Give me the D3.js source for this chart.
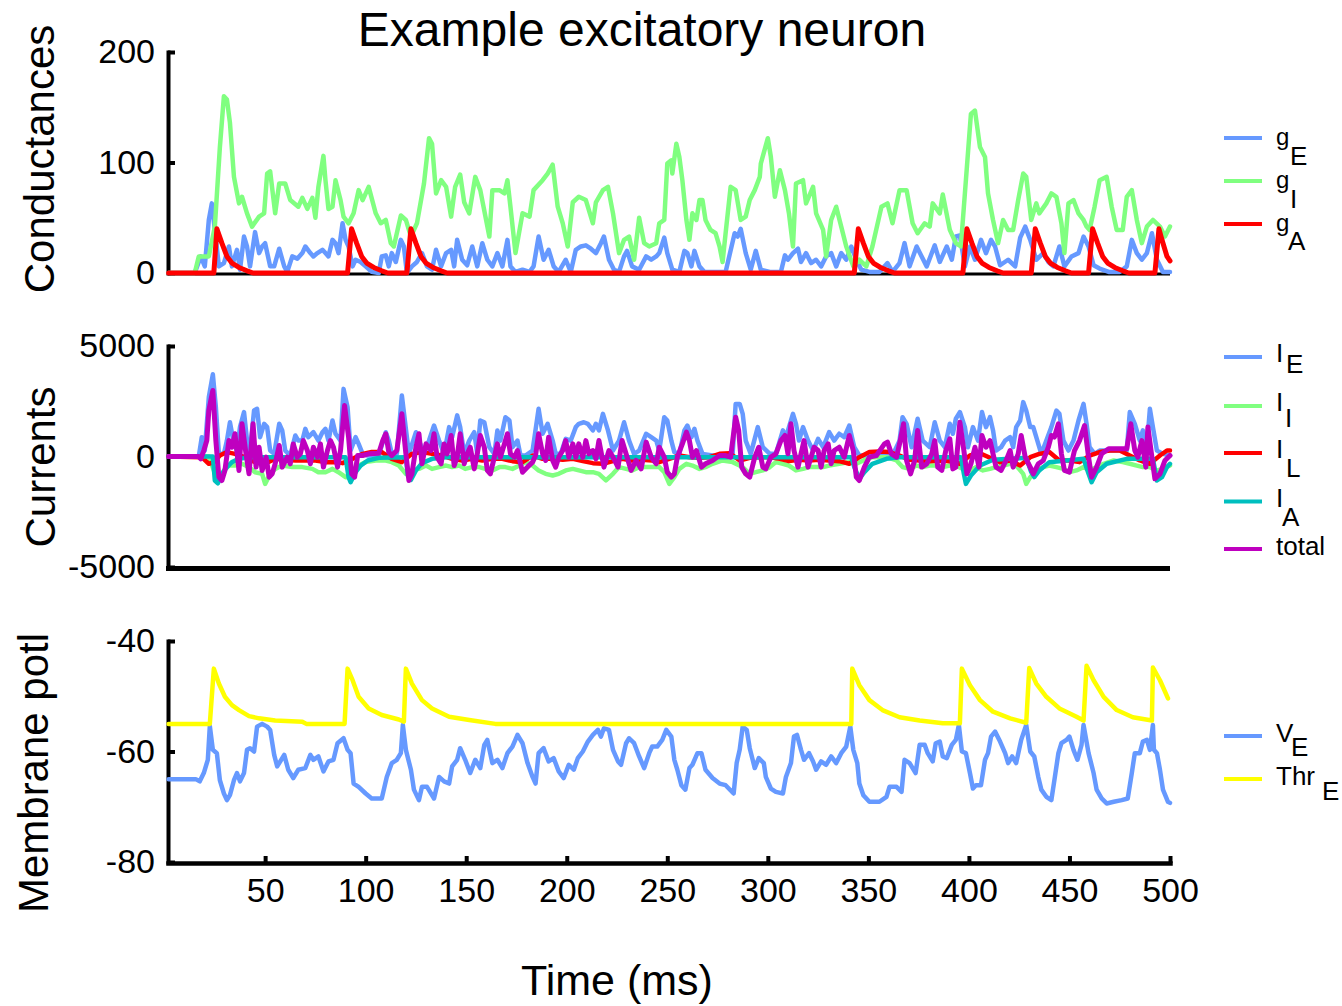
<!DOCTYPE html>
<html><head><meta charset="utf-8">
<script src="https://cdn.jsdelivr.net/npm/d3@7"></script>
<style>
body{margin:0;background:#fff}
svg{display:block}
text{font-family:"Liberation Sans",Arial,sans-serif;fill:#000}
</style>
</head><body>
<svg id="c" width="1342" height="1006"></svg>
<script>
// ---------------- DATA (time in ms, value) ----------------
const xTicks = [50,100,150,200,250,300,350,400,450,500];
const gTicks = [0,100,200];
const iTicks = [-5000,0,5000];
const vTicks = [-80,-60,-40];

const gE = [[2,0],[15,0],[18,15],[20,6],[22,48],[23.5,63],[25,39],[27,6],[29.5,9],[32,24],[33.5,6],[36,21],[37.5,3],[39.5,33],[41,24],[42.5,6],[45,37],[47,18],[48.5,24],[50,27],[52.5,6],[54.5,6],[57,22],[59.5,6],[61,1],[63.5,15],[66,13],[68.5,18],[70,24],[72.5,18],[74,15],[76,18],[78.5,21],[80,18],[81.5,15],[83.5,30],[85,27],[86.5,18],[88.5,45],[90,30],[91.5,24],[93.5,6],[95,12],[97.5,10],[100,6],[103,1],[106.5,0],[108,15],[110,16],[111.5,6],[113,18],[115,10],[117.5,30],[119,24],[120.5,0],[123,6],[125.5,10],[128,18],[130.5,6],[133,3],[135,21],[137.5,6],[140,18],[142.5,21],[144,6],[145.5,30],[148,12],[150.5,7],[153,24],[155.5,6],[158,27],[160.5,12],[163,6],[165.5,18],[168,6],[170.5,30],[172,6],[174.5,1],[178,3],[181.5,1],[183.5,6],[186,33],[188.5,12],[191,21],[193.5,6],[196,1],[199.5,12],[202,1],[204.5,21],[207,24],[209.5,25],[212,22],[214.5,18],[217,27],[218.5,33],[221,12],[223.5,3],[226,1],[228.5,15],[230,20],[232.5,6],[236,3],[239.5,15],[242,12],[244.5,15],[246,18],[248.5,32],[250,18],[252.5,3],[256,1],[258.5,20],[260,18],[262,6],[263.5,20],[266,6],[268.5,1],[272.5,1],[279,1],[283.5,36],[285,33],[286.5,40],[289,18],[291.5,3],[294,20],[296.5,3],[301,1],[306.5,1],[308.5,16],[310,12],[312.5,18],[315,22],[316.5,10],[319,18],[321.5,9],[324,12],[326.5,6],[329,15],[331.5,18],[334,6],[336.5,18],[339,12],[341.5,24],[344,12],[346.5,3],[350.5,1],[355.5,1],[359.5,9],[362,1],[365.5,9],[368,27],[370.5,6],[374,24],[376.5,15],[379,6],[383,25],[385.5,10],[389,24],[391.5,12],[393.5,33],[395.5,34],[398,6],[400.5,24],[403,12],[406,30],[408.5,18],[411,30],[413,24],[415.5,7],[419.5,12],[423,6],[425.5,32],[428,42],[430.5,30],[433.5,12],[437,18],[439.5,10],[442,6],[445,24],[447.5,6],[451,15],[454.5,18],[457,33],[459.5,24],[462,7],[465,4],[469.5,1],[475,1],[478.5,6],[481,30],[483.5,18],[486,12],[488.5,18],[491,36],[493.5,12],[496.5,1],[500,1]];

const gI = [[2,0],[15,0],[17,15],[22,15],[25,42],[27.5,114],[29.5,160],[31,157],[32.5,136],[34.5,87],[37,63],[38.5,69],[41,54],[43.5,42],[47,51],[49.5,54],[51,90],[52.5,92],[55,54],[57,81],[60,81],[62.5,66],[66.5,60],[68.5,68],[71,58],[73.5,68],[75,50],[76.5,78],[79,106],[80,84],[81.5,58],[83.5,60],[85,84],[87.5,66],[89,51],[91.5,45],[94,54],[96.5,75],[98.5,66],[101.5,78],[105,54],[107.5,45],[110,48],[112.5,27],[114,24],[117.5,52],[120,48],[122.5,33],[125.5,45],[129,81],[131.5,122],[133,117],[135,72],[137.5,84],[140,78],[142.5,51],[144.5,78],[147,89],[149,64],[151.5,54],[154.5,87],[157,75],[161.5,33],[163,75],[166.5,75],[169,72],[170.5,84],[172,60],[174.5,18],[178,54],[181.5,51],[183.5,75],[188,84],[190.5,90],[193,98],[195.5,60],[198,45],[200.5,24],[203,64],[206,69],[209.5,66],[213,45],[214.5,64],[218,75],[220.5,78],[223,54],[226,18],[228.5,30],[231,33],[233.5,12],[236,50],[238.5,27],[241,24],[244.5,27],[246,45],[248.5,48],[250,99],[252,102],[252.5,90],[254.5,117],[256,105],[257.5,84],[259.5,48],[261,30],[262.5,54],[264.5,48],[266,66],[267.5,66],[269,48],[271.5,39],[274,36],[276,24],[277.5,10],[279,36],[281.5,78],[284,75],[286.5,48],[289,51],[291,66],[293.5,75],[296,87],[296.5,99],[300,122],[301.5,105],[303.5,69],[306,93],[308.5,75],[310.5,54],[312.5,24],[314,81],[317.5,84],[319,63],[322.5,78],[324,54],[327.5,39],[329,15],[331.5,48],[334,60],[336.5,42],[339,24],[342.5,6],[345.5,12],[349,6],[352,24],[356.5,60],[359.5,63],[362,45],[365.5,75],[369,75],[372,45],[374.5,36],[378,45],[380.5,42],[382,63],[385.5,54],[387,71],[390.5,39],[393.5,27],[396,24],[398,72],[401,144],[403,147],[405.5,114],[408,105],[409.5,72],[412,48],[414.5,27],[417,48],[419.5,39],[422,39],[424.5,66],[427,90],[428.5,87],[431,48],[433.5,63],[435,54],[438.5,63],[441,72],[443.5,69],[446,45],[447.5,18],[449.5,63],[452,66],[454.5,54],[457,48],[458.5,42],[460,39],[462.5,60],[465,84],[468.5,87],[471,60],[473.5,39],[476.5,39],[478.5,69],[481,75],[483.5,48],[486,27],[488.5,42],[491.5,48],[495,42],[497.5,33],[500,42]];

const gA = [[2,0],[24.5,0],[26,40],[28.5,27],[31,15],[33.5,9],[37,5],[41,2],[44,0],[91,0],[93,40],[95.5,27],[98,15],[100.5,9],[104,5],[108,2],[111,0],[120.5,0],[122.5,40],[125,27],[127.5,15],[130,9],[133.5,5],[137.5,2],[140.5,0],[343,0],[345,40],[347.5,27],[350,15],[352.5,9],[356,5],[360,2],[363,0],[397,0],[399,40],[401.5,27],[404,15],[406.5,9],[410,5],[414,2],[417,0],[431,0],[433,40],[435.5,27],[438,15],[440.5,9],[444,5],[448,2],[451,0],[459.5,0],[461.5,40],[464,27],[466.5,15],[469,9],[472.5,5],[476.5,2],[479.5,0],[492.5,0],[494.5,40],[496,30],[498.5,15],[500,11]];

const IE = [[2,0],[17,0],[18.5,875],[20,270],[22,2685],[24,3720],[25.5,2230],[27,120],[29.5,120],[31,720],[32.5,1550],[34.5,570],[36,270],[37.5,1330],[39.5,2010],[41,720],[42.5,270],[44.5,2080],[46,2160],[47.5,875],[49.5,1480],[51,1330],[52.5,270],[54.5,120],[57,1480],[58.5,1180],[60,270],[62.5,45],[65,950],[66.5,720],[68.5,720],[70,1250],[71.5,875],[74,1100],[76.5,720],[78.5,1100],[80,1250],[81.5,720],[83.5,1630],[85,1030],[87.5,720],[89,3060],[91,2230],[92.5,270],[95,875],[96.5,570],[98.5,120],[101,45],[106.5,45],[110,1100],[111.5,720],[113,120],[115.5,120],[118,2760],[119.5,1630],[121.5,120],[125,1100],[126.5,720],[129,120],[131.5,720],[134,1400],[136.5,720],[139,120],[141.5,1330],[143,875],[145.5,1860],[147,1330],[149,120],[151.5,720],[154,1100],[155.5,120],[157,1630],[159,1550],[161.5,420],[164,120],[165.5,1180],[167,720],[169.5,1780],[171.5,1630],[173,420],[175.5,720],[177,45],[179.5,45],[183,270],[186,2160],[188,1030],[190.5,1480],[193,720],[194.5,120],[197,120],[199.5,800],[202,720],[204.5,1330],[206,1480],[208.5,1550],[210.5,1480],[213,1180],[214.5,1480],[216,1180],[218,1930],[220.5,1180],[223,270],[226,720],[228.5,1550],[231,720],[233.5,120],[236,270],[239.5,1030],[242,875],[244.5,720],[246,270],[248.5,1780],[250,1630],[252,720],[253.5,200],[256,120],[258.5,1180],[260,1400],[262,875],[263.5,1250],[265,720],[267.5,120],[272.5,45],[279,45],[282.5,120],[284,2380],[286,2380],[287.5,1930],[289,720],[291.5,120],[295,1330],[297.5,420],[301,120],[304,120],[307.5,1180],[309,875],[312.5,1930],[314,1480],[315.5,720],[317.5,1330],[320,720],[322.5,270],[325,800],[327.5,420],[330.5,1100],[333,720],[335.5,1030],[338,875],[340.5,1400],[343,420],[345.5,45],[350.5,45],[357,45],[362,45],[365.5,720],[367,1780],[369,1480],[371.5,420],[374.5,1710],[377,720],[380.5,420],[383,1550],[385.5,720],[388,420],[390.5,1480],[392,1030],[393.5,1710],[395.5,2010],[398,1330],[399.5,420],[402,1330],[404.5,720],[406.5,2010],[408.5,1330],[410.5,1780],[412,1180],[413.5,270],[416,420],[418,720],[420.5,875],[422,420],[423.5,1330],[425.5,1630],[427,2460],[428.5,2080],[430.5,1330],[432,1330],[433.5,875],[436,120],[438.5,720],[441,1330],[443.5,2080],[445,1930],[447,720],[449.5,270],[452,720],[454.5,1630],[457,2380],[458.5,1480],[460,420],[462.5,120],[465,270],[470,270],[475,270],[478.5,270],[480,2010],[482.5,1480],[485,720],[486.5,1180],[488.5,420],[490,2160],[491.5,1330],[493.5,270],[496.5,120],[500,45]];

const II = [[2,0],[22,0],[24.5,-630],[27,-1085],[29.5,-630],[32,-410],[35,-410],[38.5,-330],[42,-480],[45,-710],[48.5,-785],[50,-1240],[52.5,-785],[55,-560],[58.5,-410],[63.5,-480],[68.5,-480],[73.5,-560],[76.5,-710],[80,-710],[83.5,-560],[86.5,-710],[90,-935],[93.5,-935],[96.5,-410],[100,-255],[105,-180],[110,-180],[113,-255],[116.5,-410],[120,-785],[123,-630],[126.5,-560],[130,-410],[133,-560],[136.5,-480],[140,-410],[143,-480],[146.5,-410],[149.5,-560],[153,-480],[156.5,-480],[159.5,-560],[163,-630],[166.5,-480],[169.5,-480],[173,-560],[176.5,-410],[179.5,-255],[183,-410],[186,-630],[189.5,-785],[193,-860],[196,-785],[199.5,-630],[203,-560],[206,-630],[209.5,-710],[213,-710],[216,-785],[219.5,-1085],[223,-785],[226,-480],[229.5,-560],[232.5,-630],[236,-480],[239.5,-480],[242.5,-480],[246,-480],[248.5,-710],[251,-1240],[253.5,-935],[256,-560],[259.5,-330],[262.5,-410],[266,-560],[269,-480],[272.5,-330],[277.5,-180],[282.5,-255],[287.5,-480],[291,-785],[294,-710],[297.5,-630],[301,-480],[304,-255],[307.5,-330],[310.5,-410],[314,-630],[317.5,-560],[320.5,-480],[324,-480],[327.5,-480],[330.5,-410],[335.5,-330],[340.5,-255],[344,-330],[347.5,-180],[352,-30],[359,-30],[364,-180],[367,-480],[370.5,-560],[374,-410],[377,-480],[380.5,-410],[384,-410],[387,-480],[390.5,-410],[393.5,-410],[397,-560],[400.5,-630],[403.5,-480],[407,-630],[410.5,-560],[413.5,-480],[417,-410],[420.5,-330],[423.5,-410],[427,-785],[428.5,-1240],[430.5,-935],[433.5,-630],[437,-480],[440,-410],[443.5,-480],[447,-560],[450,-710],[453.5,-630],[457,-480],[460,-630],[463.5,-480],[467,-330],[472,-180],[476.5,-255],[480,-330],[483.5,-410],[486.5,-480],[490,-480],[493.5,-630],[496.5,-560],[500,-410]];

const IL = [[2,0],[18.5,-30],[22,-330],[24.5,-255],[27.5,45],[31,200],[35,120],[40,-30],[45,-255],[50,-330],[55,-105],[60,-150],[65,-180],[70,-180],[75,-180],[80,-255],[85,-255],[88.5,-300],[93.5,-105],[98.5,120],[103,200],[108,200],[113,-105],[118,-255],[123,120],[128,200],[133,120],[138,45],[143,-105],[148,-180],[153,-105],[158,-180],[163,-105],[168,-105],[173,-210],[178,-255],[183,45],[188,-105],[193,-105],[198,-150],[203,-105],[208,-210],[213,-300],[218,-330],[223,-210],[227.5,-105],[232.5,-180],[237.5,-150],[242.5,-180],[246,-255],[251,-105],[256,45],[261,-30],[266,-60],[271,-30],[276,120],[281,150],[286,-180],[291,-60],[296,-30],[301,-30],[306,-105],[310.5,-210],[315.5,-150],[320.5,-180],[325.5,-150],[330.5,-180],[335.5,-210],[340.5,-330],[345.5,-30],[350.5,200],[355.5,225],[360.5,200],[365.5,45],[370.5,-150],[375.5,-180],[380.5,-210],[385.5,-180],[390.5,-210],[395.5,-330],[400.5,45],[405.5,150],[410.5,-60],[415.5,-255],[420.5,-180],[425.5,-410],[430.5,-30],[435,120],[440,200],[445,-180],[450,-180],[455,-255],[460,45],[465,200],[470,270],[475,270],[480,45],[485,-180],[490,-330],[495,45],[498.5,270],[500,270]];

const IA = [[2,0],[24,0],[25,-1085],[26.5,-1210],[28.5,-785],[31,-480],[33.5,-255],[37,-105],[42,-30],[90,-30],[91.5,-935],[92.5,-1160],[95,-710],[97.5,-410],[101,-180],[106.5,-60],[120,-30],[121,-860],[122.5,-1055],[125,-630],[128,-300],[133,-105],[140,-30],[341.5,-30],[343,-480],[345.5,-1010],[348,-710],[352,-330],[359,-105],[365.5,-30],[396,-30],[397.5,-785],[398.5,-1240],[401,-860],[405.5,-410],[412,-150],[428.5,-60],[431,-710],[432.5,-935],[435,-630],[440,-255],[457,-105],[459.5,-785],[461,-1160],[463.5,-710],[468.5,-330],[478.5,-105],[491.5,-105],[493.5,-1085],[496,-935],[498.5,-480],[500,-330]];

const Itotal = [[2,0],[17,0],[18,-105],[19.5,270],[21,720],[22,2080],[24,2990],[25.5,720],[27,-935],[28.5,-1085],[30,-630],[32,720],[33.5,420],[35,1030],[37,-630],[38.5,1480],[40.5,120],[42,-785],[44,1480],[45.5,-480],[47,420],[48.5,-630],[50.5,-30],[52,-935],[53.5,-785],[55,-330],[57,500],[58.5,-480],[61,-30],[62.5,-330],[64,570],[66,-30],[67.5,120],[69,720],[71,270],[72.5,-330],[74,420],[76,-30],[77.5,570],[79,-480],[81,270],[82.5,720],[84,420],[86,-480],[87.5,270],[89.5,2310],[91.5,875],[93,-785],[94.5,-935],[96,45],[98.5,45],[101.5,120],[106.5,150],[108.5,720],[110,1030],[111.5,200],[113,45],[115.5,270],[118,1930],[120,120],[121.5,-1085],[123,-785],[125,420],[126.5,1030],[128,-330],[130,570],[132.5,270],[134,1030],[135.5,-30],[137.5,-330],[139,570],[140.5,120],[142.5,950],[144,-410],[145.5,-30],[147,1030],[149,-330],[150.5,120],[152,420],[154,-560],[155.5,120],[157,950],[159,420],[160.5,-630],[162,-785],[164,-30],[165.5,570],[167,-30],[169,570],[170.5,1030],[172,120],[174,-30],[175.5,270],[178,-710],[180.5,-480],[183,-255],[184.5,45],[186,1030],[188,120],[189.5,-180],[191,875],[193,-180],[194.5,-480],[196,-30],[198,270],[199.5,720],[201,-30],[203,570],[204.5,-30],[206,570],[208,-30],[209.5,720],[211,120],[213,270],[214.5,-105],[216,720],[218.5,-480],[221,270],[223,-30],[225.5,-480],[227.5,720],[229.5,120],[232,-630],[234.5,-180],[237,-560],[239.5,650],[242,-30],[244.5,-330],[246,420],[248.5,-30],[250,-710],[252,-935],[253.5,-785],[255,-30],[257.5,570],[259.5,1100],[261,720],[262.5,-30],[264.5,270],[267,-480],[269,-330],[272.5,-180],[276,45],[279,45],[281.5,-30],[284,1780],[285.5,1180],[287,-480],[289,-785],[291,-935],[293.5,-30],[295.5,420],[297.5,-480],[299,-560],[301.5,-30],[304,120],[306.5,720],[308.5,950],[310,120],[311.5,1480],[313,270],[315,-480],[316.5,120],[318,720],[320,-480],[321.5,-30],[323,420],[325,270],[326.5,-480],[328,270],[330,570],[331.5,-330],[333,270],[335.5,420],[338,-30],[340.5,950],[342.5,270],[344,-935],[345.5,-1085],[348,-480],[350.5,-30],[354,45],[358,570],[359.5,650],[361.5,120],[364,-30],[365.5,570],[367.5,1480],[369,-180],[371,-785],[373,-180],[374.5,1180],[376.5,-480],[379,-330],[381.5,120],[383,720],[384.5,-480],[386.5,-630],[388.5,270],[390.5,800],[392,-560],[393.5,-480],[395.5,1550],[397.5,270],[399,-785],[401,-330],[403,420],[405,-480],[406.5,950],[408.5,420],[410.5,720],[412,120],[413.5,-480],[416,-630],[418.5,-180],[420.5,270],[422,-480],[424.5,120],[426,950],[428,-30],[430.5,-480],[432,-785],[434.5,-330],[437,-180],[439.5,420],[441,950],[442.5,875],[444.5,1480],[446,120],[447.5,-630],[450,-710],[452.5,270],[455,720],[457.5,1400],[459.5,-30],[461,-935],[463.5,-480],[466,120],[469.5,350],[473.5,350],[478.5,350],[480.5,1480],[482.5,270],[484,-30],[486,720],[488,-480],[489,1330],[491,-30],[492.5,-1010],[495,-785],[497.5,-180],[500,45]];

const VE = [[2,-65],[15.5,-65],[17.5,-65.4],[19.5,-63.9],[21.5,-61.5],[22.5,-55.4],[24,-59.7],[26,-60.3],[27.5,-65.2],[29.5,-67.6],[31,-68.8],[32.5,-67.9],[34.5,-65.2],[36,-63.9],[37.5,-65.4],[39.5,-63.9],[41,-59.7],[42.5,-59.4],[44.5,-60],[46,-55.5],[48.5,-55],[51,-55.5],[52.5,-56.1],[54.5,-60.6],[56,-62.7],[59.5,-60.6],[61.5,-63.3],[64,-64.8],[66.5,-63.3],[70,-63],[72.5,-60.6],[74,-61.5],[76.5,-60.9],[79,-63.6],[81.5,-61.8],[84,-61.5],[86,-58.5],[89,-57.6],[91,-59.7],[92.5,-60.3],[94,-65.8],[96.5,-66.4],[100,-67.6],[103,-68.5],[108,-68.5],[110.5,-64.6],[113,-62.1],[115.5,-61.5],[117.5,-60.3],[118.5,-55.2],[120,-59.7],[122.5,-63.3],[124,-66.9],[126.5,-68.8],[128,-66.4],[130.5,-66.4],[134,-68.5],[136.5,-64.6],[139,-65.4],[141.5,-65.8],[143,-62.7],[145.5,-61.5],[147,-59.4],[149.5,-61.5],[152,-63.9],[154.5,-61.5],[157,-63],[159,-58.8],[160.5,-57.9],[163,-62.1],[165.5,-61.5],[168,-63],[170.5,-60.3],[173,-59.1],[175.5,-57],[178,-58.5],[180.5,-62.1],[183,-64.6],[184.5,-65.8],[186,-60.3],[188.5,-59.4],[191,-61.8],[193.5,-61.2],[196,-63.6],[198.5,-64.8],[201,-62.4],[203.5,-63.3],[205.5,-61.2],[208,-60],[210.5,-58.2],[213,-57],[215.5,-56.1],[217,-57.3],[218.5,-55.8],[221,-56.1],[223,-59.7],[225.5,-61.8],[227,-62.4],[229.5,-58.5],[231,-57.6],[233.5,-58.5],[236,-60.9],[238.5,-63],[241,-60.3],[242.5,-59.1],[245,-59.1],[247.5,-57.9],[249.5,-56.1],[252,-57.3],[253.5,-61.5],[255,-63.3],[257,-66.1],[259,-66.9],[261,-63],[262.5,-62.4],[265,-60.3],[267,-60.3],[269,-63.3],[272.5,-64.8],[276,-65.8],[279,-66.1],[283,-67.6],[284.5,-62.1],[286,-59.7],[287.5,-55.5],[289.5,-56.1],[291,-59.4],[293.5,-63],[295.5,-61.2],[298,-62.1],[299,-64.6],[301.5,-66.7],[304,-67.3],[307.5,-67.6],[309,-64.6],[311.5,-62.1],[313,-57.3],[314.5,-57],[316.5,-59.7],[318,-61.5],[320.5,-60.3],[322.5,-61.8],[324,-63.3],[326.5,-61.8],[329,-62.4],[331.5,-60.9],[334,-62.1],[336.5,-60.3],[339,-59.1],[341,-55.5],[342.5,-59.7],[344.5,-62.1],[345.5,-65.8],[347.5,-67.9],[350.5,-69.1],[355.5,-69.1],[359,-68.2],[360.5,-66.4],[364,-66.4],[366.5,-67.3],[368,-61.5],[370.5,-62.1],[373.5,-63.9],[375.5,-58.8],[378,-58.8],[379.5,-60.3],[382,-61.8],[383.5,-58.5],[385.5,-58.2],[387,-60.9],[389,-61.2],[391.5,-58.8],[393.5,-57.9],[395,-55.2],[396.5,-60],[398.5,-60.3],[400.5,-63.9],[402,-66.7],[403.5,-66.1],[406,-66.1],[408,-61.5],[409.5,-60.3],[411,-57.3],[413,-56.4],[415.5,-58.2],[418,-60.3],[419.5,-62.1],[421.5,-60.9],[423.5,-62.1],[426,-57.9],[428.5,-55.2],[430.5,-60],[432.5,-60.9],[434.5,-64.6],[436,-66.9],[438.5,-68.2],[441,-68.8],[442.5,-65.2],[444.5,-60.3],[446,-58.5],[448.5,-57.9],[450,-57.3],[452,-59.7],[454,-61.5],[456,-58.8],[457,-55.2],[459.5,-60.3],[462,-63.9],[463.5,-66.9],[466,-68.5],[468.5,-69.4],[472,-69.1],[476,-68.8],[479,-68.5],[481,-63.9],[482.5,-60.3],[485,-60.3],[486.5,-58.2],[488.5,-57.9],[490,-59.7],[491.5,-55.2],[492,-59.7],[493.5,-60.3],[495,-63.3],[496.5,-66.9],[499,-69.1],[500,-69.3]];

const ThrE = [[2,-55],[22.5,-55],[24.5,-45],[27,-47.7],[30,-50.1],[33.5,-51.6],[37,-52.5],[42,-53.6],[47,-54],[55,-54.4],[68.5,-54.6],[70.5,-55],[89.5,-55],[91,-45],[93.5,-47.1],[96.5,-50.1],[101.5,-52.2],[108,-53.4],[116.5,-54.2],[119,-54.6],[120,-45],[123,-47.7],[128,-50.7],[133,-52.2],[141.5,-53.7],[151.5,-54.3],[164.5,-55],[341.5,-55],[342,-45],[345.5,-48],[350.5,-50.7],[357,-52.5],[365.5,-53.8],[375.5,-54.4],[387,-54.9],[395.5,-54.9],[396.5,-45],[400.5,-48],[405.5,-50.7],[412,-52.8],[420.5,-54],[428.5,-54.8],[430,-44.9],[433.5,-47.7],[438.5,-50.1],[445,-52.2],[453.5,-53.7],[457,-54.4],[458.5,-44.5],[462,-47.1],[467,-50.1],[473.5,-52.5],[481.5,-53.8],[491,-54.4],[491.5,-44.8],[495,-47.1],[499,-50.4]];

// ---------------- DRAWING ----------------
const FONT = '"Liberation Sans",Arial,sans-serif';
const svg = d3.select("#c");
const x = d3.scaleLinear().domain([1.7, 500]).range([168, 1170]);
const yG = d3.scaleLinear().domain([0, 200]).range([273, 52]);
const yI = d3.scaleLinear().domain([-5000, 5000]).range([567, 346]);
const yV = d3.scaleLinear().domain([-80, -40]).range([862, 641]);

const C = {blue:"#6699FF", green:"#80FF80", red:"#FF0000", teal:"#00BFBF", mag:"#BF00BF", yellow:"#FFFF00"};

function yAxis(scale, ticks) {
  const g = svg.append("g").attr("transform", "translate(168,0)")
    .call(d3.axisLeft(scale).tickValues(ticks).tickFormat(d => String(d))
      .tickSize(-7).tickSizeOuter(0).tickPadding(13));
  g.attr("font-size", 34).attr("font-family", FONT);
  g.select(".domain").attr("stroke", "#000").attr("stroke-width", 4).attr("stroke-linecap", "square");
  g.selectAll(".tick line").attr("stroke", "#000").attr("stroke-width", 4);
  g.selectAll(".tick text").attr("fill", "#000");
  return g;
}

// top panel x baseline and middle bottom line
svg.append("line").attr("x1", x(1.7)).attr("x2", x(500)).attr("y1", 274).attr("y2", 274)
  .attr("stroke", "#000").attr("stroke-width", 3);
svg.append("line").attr("x1", x(1.7) - 2).attr("x2", x(500)).attr("y1", 568.5).attr("y2", 568.5)
  .attr("stroke", "#000").attr("stroke-width", 5);

yAxis(yG, gTicks);
yAxis(yI, iTicks);
yAxis(yV, vTicks);

// bottom x axis
const xa = svg.append("g").attr("transform", "translate(0,863)")
  .call(d3.axisBottom(x).tickValues(xTicks).tickFormat(d => String(d))
    .tickSize(-7).tickSizeOuter(0).tickPadding(15));
xa.attr("font-size", 34).attr("font-family", FONT);
xa.select(".domain").attr("stroke", "#000").attr("stroke-width", 4.5).attr("stroke-linecap", "square");
xa.selectAll(".tick line").attr("stroke", "#000").attr("stroke-width", 4);
xa.selectAll(".tick text").attr("fill", "#000");

function drawLine(data, yScale, color, w) {
  svg.append("path").datum(data)
    .attr("d", d3.line().x(d => x(d[0])).y(d => yScale(d[1])))
    .attr("fill", "none").attr("stroke", color).attr("stroke-width", w)
    .attr("stroke-linejoin", "round").attr("stroke-linecap", "round");
}

drawLine(gE, yG, C.blue, 4.5);
drawLine(gI, yG, C.green, 4.5);
drawLine(gA, yG, C.red, 5);

drawLine(IE, yI, C.blue, 4.5);
drawLine(II, yI, C.green, 4.5);
drawLine(IL, yI, C.red, 4.5);
drawLine(IA, yI, C.teal, 4.5);
drawLine(Itotal, yI, C.mag, 5);

drawLine(VE, yV, C.blue, 4.5);
drawLine(ThrE, yV, C.yellow, 4.5);

// texts
svg.append("text").attr("x", 642).attr("y", 46).attr("text-anchor", "middle")
  .attr("font-size", 48).text("Example excitatory neuron");
svg.append("text").attr("x", 617).attr("y", 995).attr("text-anchor", "middle")
  .attr("font-size", 43).text("Time (ms)");
function ylab(txt, cx, cy) {
  svg.append("text").attr("transform", `translate(${cx},${cy}) rotate(-90)`)
    .attr("text-anchor", "middle").attr("font-size", 42).text(txt);
}
ylab("Conductances", 54, 159);
ylab("Currents", 55, 467);
ylab("Membrane potl", 48, 773);

// legends
const legG = [
  {c: C.blue, ly: 138, m: "g", mb: 145, s: "E", sx: 1290, sb: 165, ms: 24},
  {c: C.green, ly: 181, m: "g", mb: 188, s: "I", sx: 1290, sb: 208, ms: 24},
  {c: C.red, ly: 224, m: "g", mb: 231, s: "A", sx: 1288, sb: 250, ms: 24}
];
const legI = [
  {c: C.blue, ly: 357, m: "I", mb: 362, s: "E", sx: 1286, sb: 373, ms: 26},
  {c: C.green, ly: 406, m: "I", mb: 411, s: "I", sx: 1285, sb: 427, ms: 26},
  {c: C.red, ly: 453, m: "I", mb: 458, s: "L", sx: 1286, sb: 477, ms: 26},
  {c: C.teal, ly: 501.5, m: "I", mb: 507, s: "A", sx: 1282, sb: 526, ms: 26},
  {c: C.mag, ly: 549, m: "total", mb: 555, s: "", sx: 0, sb: 0, ms: 26}
];
const legV = [
  {c: C.blue, ly: 736, m: "V", mb: 742, s: "E", sx: 1291, sb: 756, ms: 26},
  {c: C.yellow, ly: 779, m: "Thr", mb: 785, s: "E", sx: 1322, sb: 800, ms: 26}
];
[...legG, ...legI, ...legV].forEach(e => {
  svg.append("line").attr("x1", 1224).attr("x2", 1262).attr("y1", e.ly).attr("y2", e.ly)
    .attr("stroke", e.c).attr("stroke-width", 4);
  svg.append("text").attr("x", 1276).attr("y", e.mb).attr("font-size", e.ms).text(e.m);
  if (e.s) svg.append("text").attr("x", e.sx).attr("y", e.sb).attr("font-size", 26).text(e.s);
});
</script>
</body></html>
